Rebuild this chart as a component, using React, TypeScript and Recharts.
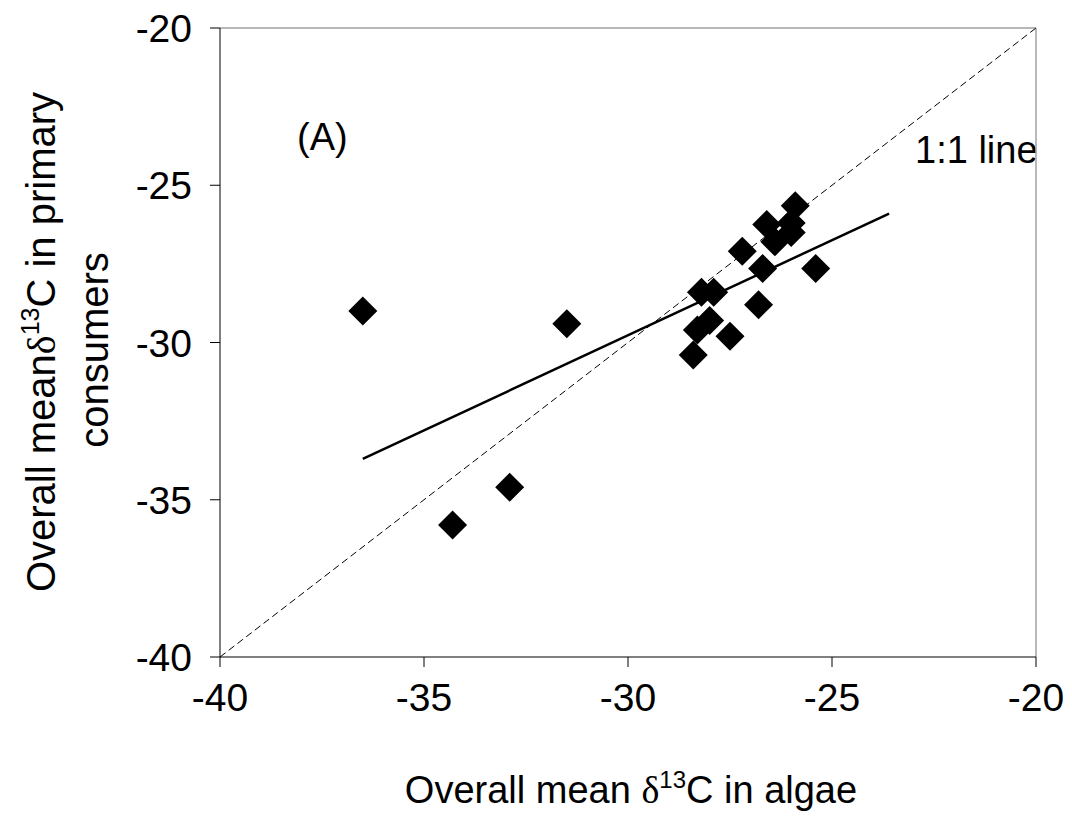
import React from 'react';
import { ReferenceLine, Scatter, ScatterChart, XAxis, YAxis } from 'recharts';

// delta13C values
const algae = [
	-36.5, -34.3, -32.9, -31.5, -28.4, -28.3, -28.0, -27.5, -28.2, -27.9, -26.8, -26.7, -27.2, -26.4,
	-26.0, -26.0, -26.6, -25.9, -25.4,
];
const consumers = [
	-29.0, -35.8, -34.6, -29.4, -30.4, -29.6, -29.3, -29.8, -28.4, -28.4, -28.8, -27.65, -27.1, -26.8,
	-26.5, -26.2, -26.25, -25.65, -27.65,
];
const ticks = [-40, -35, -30, -25, -20];
const regX = [-36.5, -23.6];
const regY = [-33.7, -25.9];

const points = algae.map((x, i) => ({ x, y: consumers[i] }));

const font = '"Liberation Sans", Arial, sans-serif';
const serif = '"Liberation Serif", "Times New Roman", serif';

const Diamond = (props: any) => {
	const { cx, cy } = props;
	const r = 14.5;
	return <polygon points={`${cx},${cy - r} ${cx + r},${cy} ${cx},${cy + r} ${cx - r},${cy}`} fill='#000' />;
};

const XTick = ({ x, y, payload }: any) => (
	<text x={x} y={y + 42} textAnchor='middle' fontSize={39} fontFamily={font} fill='#000'>
		{payload.value}
	</text>
);

const YTick = ({ x, y, payload }: any) => (
	<text x={x - 16} y={y + 14} textAnchor='end' fontSize={39} fontFamily={font} fill='#000'>
		{payload.value}
	</text>
);

export default function App() {
	return (
		<div style={{ position: 'absolute', left: 0, top: 0, background: '#fff' }}>
			<ScatterChart width={1072} height={817} margin={{ top: 28, right: 36, bottom: 100, left: 140 }}>
				<XAxis
					type='number'
					dataKey='x'
					domain={[-40, -20]}
					ticks={ticks}
					height={60}
					tickSize={10}
					stroke='#000'
					tick={<XTick />}
				/>
				<YAxis
					type='number'
					dataKey='y'
					domain={[-40, -20]}
					ticks={ticks}
					width={80}
					tickSize={10}
					stroke='#000'
					tick={<YTick />}
				/>
				<ReferenceLine segment={[{ x: -40, y: -20 }, { x: -20, y: -20 }]} stroke='#a0a0a0' strokeWidth={1.5} />
				<ReferenceLine segment={[{ x: -20, y: -40 }, { x: -20, y: -20 }]} stroke='#a0a0a0' strokeWidth={1.5} />
				<ReferenceLine
					segment={[{ x: -40, y: -40 }, { x: -20, y: -20 }]}
					stroke='#000'
					strokeWidth={1}
					strokeDasharray='7 4'
				/>
				<ReferenceLine
					segment={[{ x: regX[0], y: regY[0] }, { x: regX[1], y: regY[1] }]}
					stroke='#000'
					strokeWidth={2.5}
				/>
				<Scatter data={points} shape={<Diamond />} isAnimationActive={false} />
				<text x={297} y={150} fontSize={38} fontFamily={font} fill='#000'>
					(A)
				</text>
				<text x={915} y={163} fontSize={38} fontFamily={font} fill='#000'>
					1:1 line
				</text>
				<text x={631} y={803} textAnchor='middle' fontSize={38} fontFamily={font} fill='#000'>
					Overall mean <tspan fontFamily={serif}>δ</tspan>
					<tspan fontSize={24} dy={-15}>
						13
					</tspan>
					<tspan dy={15}>C in algae</tspan>
				</text>
				<text
					x={55}
					y={342}
					transform='rotate(-90, 55, 342)'
					textAnchor='middle'
					fontSize={40}
					fontFamily={font}
					fill='#000'
				>
					Overall mean<tspan fontFamily={serif}>δ</tspan>
					<tspan fontSize={25} dy={-16}>
						13
					</tspan>
					<tspan dy={16}>C in primary</tspan>
				</text>
				<text
					x={108}
					y={350}
					transform='rotate(-90, 108, 350)'
					textAnchor='middle'
					fontSize={40}
					fontFamily={font}
					fill='#000'
				>
					consumers
				</text>
			</ScatterChart>
		</div>
	);
}
